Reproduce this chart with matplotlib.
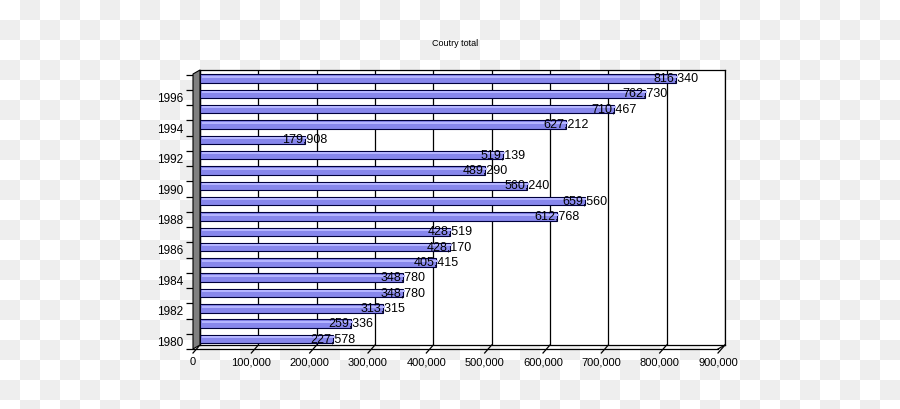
import numpy as np
import matplotlib
matplotlib.use("Agg")
import matplotlib.pyplot as plt
from matplotlib.patches import Polygon
from matplotlib.lines import Line2D

plt.rcParams['font.family'] = ['Liberation Sans', 'DejaVu Sans']

# data
years = list(range(1980, 1998))
totals = [227578, 259336, 313315, 348780, 348780, 405415, 428170, 428519,
          612768, 659560, 560240, 489290, 519139, 179908, 627212, 710467,
          762730, 816340]
xticks = list(range(0, 900001, 100000))
title = "Coutry total"

W, H = 900, 409
fig = plt.figure(figsize=(W / 100, H / 100), dpi=100)

# checkerboard background (transparency look of the reference)
yy, xx = np.mgrid[0:H, 0:W]
chk = ((xx // 20 + yy // 20) % 2).astype(float)
bg = np.ones((H, W, 3))
bg[chk == 1] = 0.937
fig.figimage(bg, 0, 0, origin='upper', zorder=-10)


def fx(px):
    return px / W


def fy(py):
    return 1 - py / H


# back wall axes and front (floor) axes, offset like a 3d chart
dx, dy = 7, 4
ax = fig.add_axes([fx(200), fy(345), fx(725) - fx(200), fy(70) - fy(345)])
axf = fig.add_axes([fx(200 - dx), fy(345 + dy), fx(725) - fx(200), fy(70) - fy(345)])

pos = np.arange(len(years))
ylo, yhi = -0.39, 17.55
for a in (ax, axf):
    a.set_xlim(0, 900000)
    a.set_ylim(ylo, yhi)

ax.set_facecolor('white')
ax.set_xticks(xticks)
ax.grid(axis='x', color='black', lw=0.9)
ax.tick_params(length=0, labelleft=False, labelbottom=False)
for s in ax.spines.values():
    s.set_linewidth(0.9)

# bars
ax.barh(pos, totals, height=0.55, color='#8787ec', edgecolor='#00003c', lw=0.8, zorder=3)
ax.barh(pos + 0.11, totals, height=0.14, left=3000, color='#b4b4ff', lw=0, zorder=4)
for p, v in zip(pos, totals):
    ax.text(v, p, f"{v:,}", ha='center', va='center', fontsize=9, zorder=5)

# front plane: ticks and labels
axf.patch.set_alpha(0)
for s in ('top', 'right', 'left'):
    axf.spines[s].set_visible(False)
axf.spines['bottom'].set_linewidth(0.9)
axf.set_xticks(xticks)
axf.set_xticklabels([f"{t:,}" for t in xticks], fontsize=8)
axf.tick_params(axis='x', length=0, pad=6)
even = [i for i, y in enumerate(years) if y % 2 == 0]
axf.set_yticks(even)
axf.set_yticklabels([str(years[i]) for i in even], fontsize=8.5)
axf.set_yticks(np.arange(-0.5, len(years)), minor=True)
axf.tick_params(axis='y', which='major', length=0, pad=7)
axf.tick_params(axis='y', which='minor', length=5, width=0.9, direction='out')

# slanted floor ticks
sx = dx * 900000 / 525
sy = dy / 275
tr = axf.get_xaxis_transform()
for t in xticks:
    axf.add_line(Line2D([t, t + sx], [-4 / 275, sy], transform=tr, color='black',
                        lw=0.9, clip_on=False))
axf.add_line(Line2D([900000, 900000 + sx], [0, sy], transform=tr, color='black',
                    lw=0.9, clip_on=False))

# gray side wall
wall = Polygon([(fx(193), fy(74)), (fx(200), fy(70)), (fx(200), fy(345)), (fx(193), fy(349))],
               closed=True, transform=fig.transFigure, facecolor='#808080',
               edgecolor='black', lw=0.8, zorder=5)
fig.patches.append(wall)

fig.text(fx(455), fy(44), title, ha='center', va='center', fontsize=6.5)

fig.savefig('out.png', dpi=100)
